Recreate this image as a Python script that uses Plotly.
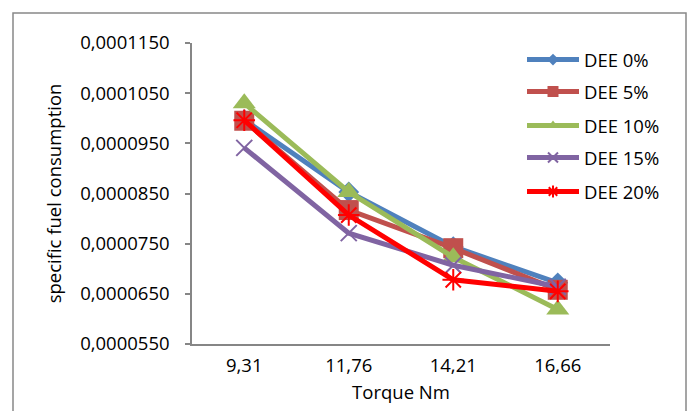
import plotly.graph_objects as go

categories = ["9,31", "11,76", "14,21", "16,66"]
series_names = ["DEE 0%", "DEE 5%", "DEE 10%", "DEE 15%", "DEE 20%"]
dee0 = [0.0000997, 0.0000853, 0.0000744, 0.0000672]
dee5 = [0.0000995, 0.0000817, 0.0000741, 0.0000658]
dee10 = [0.0001030, 0.0000853, 0.0000723, 0.0000619]
dee15 = [0.0000941, 0.0000771, 0.0000707, 0.0000664]
dee20 = [0.0000996, 0.0000807, 0.0000678, 0.0000655]
y_tickvals = [0.0000550, 0.0000650, 0.0000750, 0.0000850, 0.0000950, 0.0001050, 0.0001150]
y_ticktext = ["0,0000550", "0,0000650", "0,0000750", "0,0000850", "0,0000950", "0,0001050", "0,0001150"]

values = [dee0, dee5, dee10, dee15, dee20]
colors = ["#4F81BD", "#C0504D", "#9BBB59", "#8064A2", "#FF0000"]
symbols = ["diamond", "square", "triangle-up", "x-thin-open", "asterisk-open"]
sizes = [16, 20, 20, 16, 18]
legend_sizes = [9, 11, 10, 10, 10]
legend_y_px = [60, 92, 126, 158, 192]

FONT = "Open Sans"
FS = 18.5
fig = go.Figure()
L, R, T, B = 192, 610, 43, 344


def marker(i, size):
    mk = dict(symbol=symbols[i], size=size, color=colors[i])
    if "open" in symbols[i]:
        mk["line"] = dict(color=colors[i], width=2)
    return mk


for i, (name, vals) in enumerate(zip(series_names, values)):
    fig.add_trace(go.Scatter(
        x=categories, y=vals, name=name, mode="lines+markers",
        line=dict(color=colors[i], width=5),
        marker=marker(i, sizes[i]), showlegend=False,
    ))

for i, name in enumerate(series_names):
    lg = "legend" if i == 0 else f"legend{i+1}"
    fig.add_trace(go.Scatter(
        x=[None], y=[None], name=name, mode="lines+markers",
        line=dict(color=colors[i], width=5),
        marker=marker(i, legend_sizes[i]), legend=lg, showlegend=True,
    ))

layout_legends = {}
for i in range(5):
    key = "legend" if i == 0 else f"legend{i+1}"
    layout_legends[key] = dict(
        x=(522 - L) / (R - L), xanchor="left",
        y=(B - legend_y_px[i]) / (B - T), yanchor="middle",
        font=dict(family=FONT, size=FS, color="black"),
        bgcolor="rgba(0,0,0,0)", borderwidth=0,
        itemsizing="trace", itemwidth=52,
    )

fig.update_layout(
    width=691, height=411,
    margin=dict(l=L, r=691 - R, t=T, b=411 - B),
    paper_bgcolor="white", plot_bgcolor="white",
    font=dict(family=FONT, size=FS, color="black"),
    showlegend=True,
    **layout_legends,
)
fig.update_xaxes(
    type="category", range=[-0.5, 3.5],
    showline=True, linecolor="#868686", linewidth=1.5,
    showgrid=False, zeroline=False, ticks="",
    tickfont=dict(family=FONT, size=FS, color="black"),
    ticklabelstandoff=4,
    title=dict(text="Torque Nm", font=dict(family=FONT, size=FS, color="black"), standoff=10),
)
fig.update_yaxes(
    range=[0.0000550, 0.0001150],
    tickvals=y_tickvals, ticktext=y_ticktext,
    showline=True, linecolor="#868686", linewidth=1.5,
    showgrid=False, zeroline=False,
    ticks="outside", ticklen=5, tickcolor="#868686", tickwidth=1.5,
    tickfont=dict(family=FONT, size=FS, color="black"),
    ticklabelstandoff=12,
    title=dict(text="specific fuel consumption", font=dict(family=FONT, size=FS, color="black"), standoff=14),
)
fig.add_shape(
    type="rect", xref="paper", yref="paper",
    x0=(13 - L) / (R - L), x1=(686 - L) / (R - L),
    y0=(B - 430) / (B - T), y1=(B - 13) / (B - T),
    line=dict(color="#888888", width=1.5), fillcolor="rgba(0,0,0,0)",
    layer="below",
)
fig.write_html("out.html")
